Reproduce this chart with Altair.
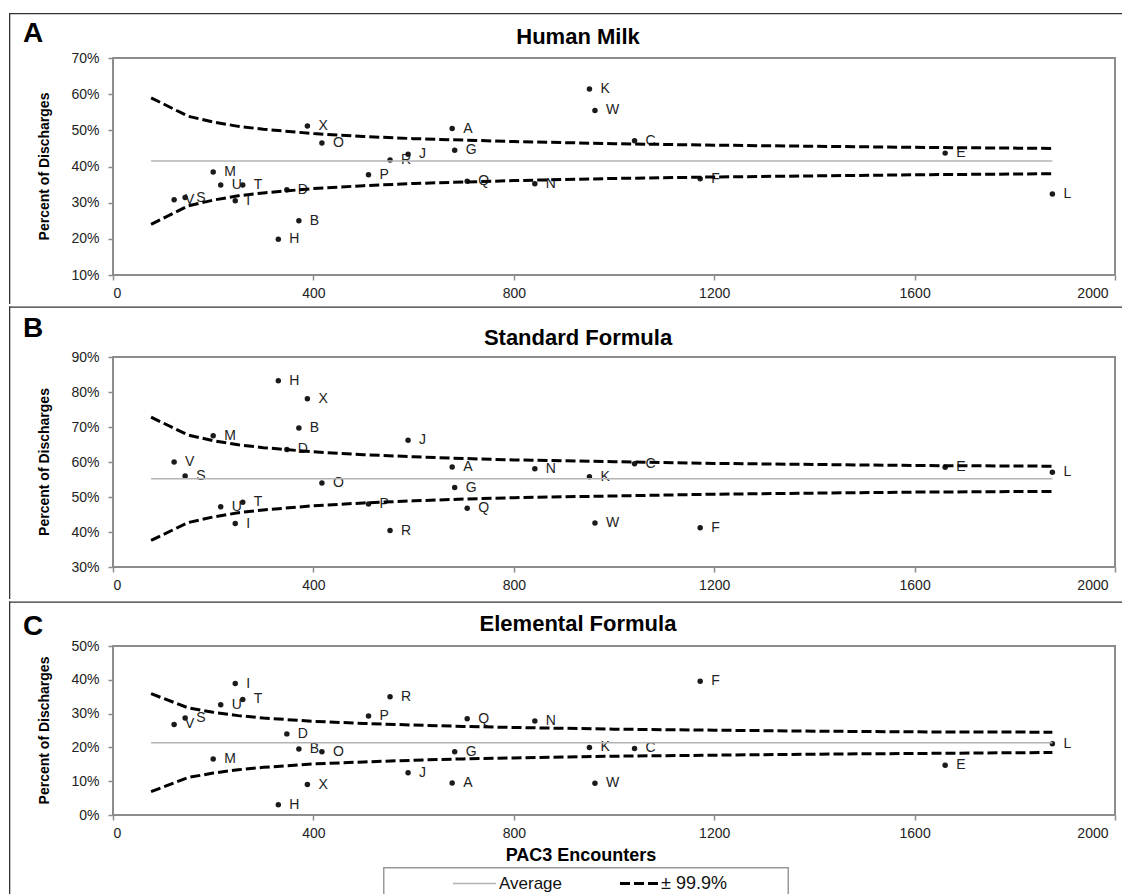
import altair as alt
import pandas as pd

FONT = "Liberation Sans"

hospitals = list("ABCDEFGHIJKLMNOPQRSTUVWX")
encounters = [677, 371, 1041, 347, 1661, 1172, 682, 330, 244, 589, 951, 1875,
              200, 842, 417, 510, 707, 553, 144, 259, 215, 122, 962, 388]
human_milk = [50.5, 25.0, 47.1, 33.6, 43.7, 36.6, 44.5, 19.9, 30.5, 43.4, 61.4, 32.4,
              38.5, 35.2, 46.5, 37.7, 35.9, 41.8, 31.4, 34.9, 34.9, 30.8, 55.5, 51.2]
standard = [58.6, 69.7, 59.5, 63.6, 58.5, 41.2, 52.7, 83.2, 42.4, 66.2, 55.8, 57.1,
            67.5, 58.1, 54.0, 48.0, 46.8, 40.4, 56.0, 48.5, 47.2, 60.0, 42.6, 78.1]
elemental = [9.5, 19.5, 19.7, 24.0, 14.7, 39.6, 18.7, 3.0, 38.9, 12.5, 20.0, 21.1,
             16.6, 27.8, 18.7, 29.3, 28.5, 35.0, 28.7, 34.2, 32.6, 26.8, 9.4, 9.0]

limit_x = [76, 150, 200, 250, 300, 400, 500, 600, 700, 800, 1000, 1200, 1400, 1600, 1875]
hm_upper = [59.0, 53.9, 52.3, 51.1, 50.3, 49.1, 48.3, 47.7, 47.3, 46.9, 46.3, 45.9, 45.6, 45.3, 45.0]
hm_lower = [24.0, 29.1, 30.7, 31.9, 32.7, 33.9, 34.7, 35.3, 35.7, 36.1, 36.7, 37.1, 37.4, 37.7, 38.0]
sf_upper = [72.8, 67.7, 66.1, 64.9, 64.1, 62.9, 62.1, 61.5, 61.0, 60.6, 60.1, 59.6, 59.3, 59.0, 58.8]
sf_lower = [37.6, 42.7, 44.3, 45.5, 46.3, 47.5, 48.3, 48.9, 49.4, 49.8, 50.3, 50.8, 51.1, 51.4, 51.6]
ef_upper = [35.9, 31.7, 30.4, 29.4, 28.7, 27.7, 27.1, 26.6, 26.2, 25.9, 25.4, 25.1, 24.8, 24.6, 24.5]
ef_lower = [6.9, 11.1, 12.4, 13.4, 14.1, 15.1, 15.7, 16.2, 16.6, 16.9, 17.4, 17.7, 18.0, 18.2, 18.5]
average_x = [76, 1875]
averages = [41.5, 55.2, 21.4]

x_ticks = [0, 400, 800, 1200, 1600, 2000]

PLOT_W = 1002
LEFT = -104
RIGHT = 1009
LINE = 1.3


def one():
    return pd.DataFrame({"k": [0]})


def bar(x1, x2, y1, y2, color="#333"):
    # thin filled rectangle used as a frame line (exact bounds, no stroke expansion)
    return alt.Chart(one()).mark_rect(color=color, opacity=1).encode(
        x=alt.value(x1), x2=alt.value(x2), y=alt.value(y1), y2=alt.value(y2))


def text(t, x, y, size, bold=False, align="center", baseline="alphabetic", angle=0,
         color="black"):
    kw = dict(text=t, align=align, baseline=baseline, fontSize=size, font=FONT,
              color=color, fontWeight="bold" if bold else "normal")
    if angle:
        kw["angle"] = angle
    return alt.Chart(one()).mark_text(**kw).encode(x=alt.value(x), y=alt.value(y))


def panel(letter, title, values, upper, lower, avg, ymin, ymax, height,
          top, bottom, letter_y, title_y, last=False):
    pts = pd.DataFrame({"h": hospitals, "x": encounters, "y": values})
    lim = pd.DataFrame({
        "x": limit_x + limit_x,
        "y": upper + lower,
        "band": ["upper"] * len(limit_x) + ["lower"] * len(limit_x),
    })
    avgdf = pd.DataFrame({"x": average_x, "y": [avg, avg]})

    xs = alt.Scale(domain=[0, 2000], nice=False, zero=False)
    ys = alt.Scale(domain=[ymin, ymax], nice=False, zero=False)
    xaxis = alt.Axis(values=x_ticks, format="d", title=None, grid=False, domain=False,
                     tickSize=5, tickColor="#8c8c8c", tickWidth=1.5,
                     labelFontSize=14, labelFont=FONT, labelColor="#222",
                     labelPadding=6,
                     labelOffset={"condition": {"test": "datum.value == 2000", "value": -7},
                                  "value": 0})
    yaxis = alt.Axis(values=list(range(ymin, ymax + 1, 10)), labelExpr="datum.value + '%'",
                     title=None, grid=False, domain=False, tickSize=5,
                     tickColor="#8c8c8c", tickWidth=1.5, labelFontSize=14,
                     labelFont=FONT, labelColor="#222", labelPadding=9)
    X = alt.X("x:Q", scale=xs, axis=xaxis)
    Y = alt.Y("y:Q", scale=ys, axis=yaxis)

    avg_line = alt.Chart(avgdf).mark_line(color="#b4b4b4", strokeWidth=1.5).encode(x=X, y=Y)
    lim_lines = alt.Chart(lim).mark_line(color="black", strokeWidth=3,
                                         strokeDash=[10, 4]).encode(
        x=X, y=Y, detail="band:N")
    dots = alt.Chart(pts).mark_circle(size=30, color="#1a1a1a", opacity=1).encode(x=X, y=Y)
    labels = alt.Chart(pts).mark_text(align="left", baseline="middle", dx=11,
                                      fontSize=14, font=FONT, color="#222").encode(
        x=X, y=Y, text="h:N")

    deco = [
        # panel frame: top edge and left edge
        bar(LEFT, RIGHT, top, top + LINE),
        bar(LEFT, LEFT + LINE, top, bottom),
        text(letter, -90, letter_y, 28, bold=True, align="left"),
        text(title, 465, title_y, 22, bold=True),
        text("Percent of Discharges", -68, height / 2, 14, bold=True,
             baseline="middle", angle=270),
    ]

    if last:
        ly = height + 68.5
        box_top = height + 52
        deco += [
            text("PAC3 Encounters", 468, height + 46, 18, bold=True),
            bar(270, 676, box_top, box_top + 1.5, color="#9a9a9a"),
            bar(270, 271.5, box_top, bottom, color="#9a9a9a"),
            bar(674.5, 676, box_top, bottom, color="#9a9a9a"),
            alt.Chart(one()).mark_rule(color="#b4b4b4", strokeWidth=1.5).encode(
                x=alt.value(340), x2=alt.value(383), y=alt.value(ly)),
            text("Average", 386, ly, 17, align="left", baseline="middle", color="#111"),
            alt.Chart(one()).mark_rule(color="black", strokeWidth=3,
                                       strokeDash=[10, 4]).encode(
                x=alt.value(507), x2=alt.value(545), y=alt.value(ly)),
            text("± 99.9%", 548, ly, 18, align="left", baseline="middle", color="#111"),
        ]

    return alt.layer(*deco, labels, dots, avg_line, lim_lines).properties(
        width=PLOT_W, height=height)


pa = panel("A", "Human Milk", human_milk, hm_upper, hm_lower, averages[0],
           10, 70, 217, -45, 246, -16.5, -14)
pb = panel("B", "Standard Formula", standard, sf_upper, sf_lower, averages[1],
           30, 90, 210, -50.5, 242, -20.5, -12)
pc = panel("C", "Elemental Formula", elemental, ef_upper, ef_lower, averages[2],
           0, 50, 169, -44.5, 248, -11.5, -15, last=True)

chart = alt.vconcat(pa, pb, pc, spacing=0).properties(
    padding={"left": 0, "top": 4, "right": 0, "bottom": 0},
    background="white",
).configure_view(stroke="#8c8c8c", strokeWidth=2)

chart.save("out.html", embed_options={"renderer": "svg", "actions": False})
